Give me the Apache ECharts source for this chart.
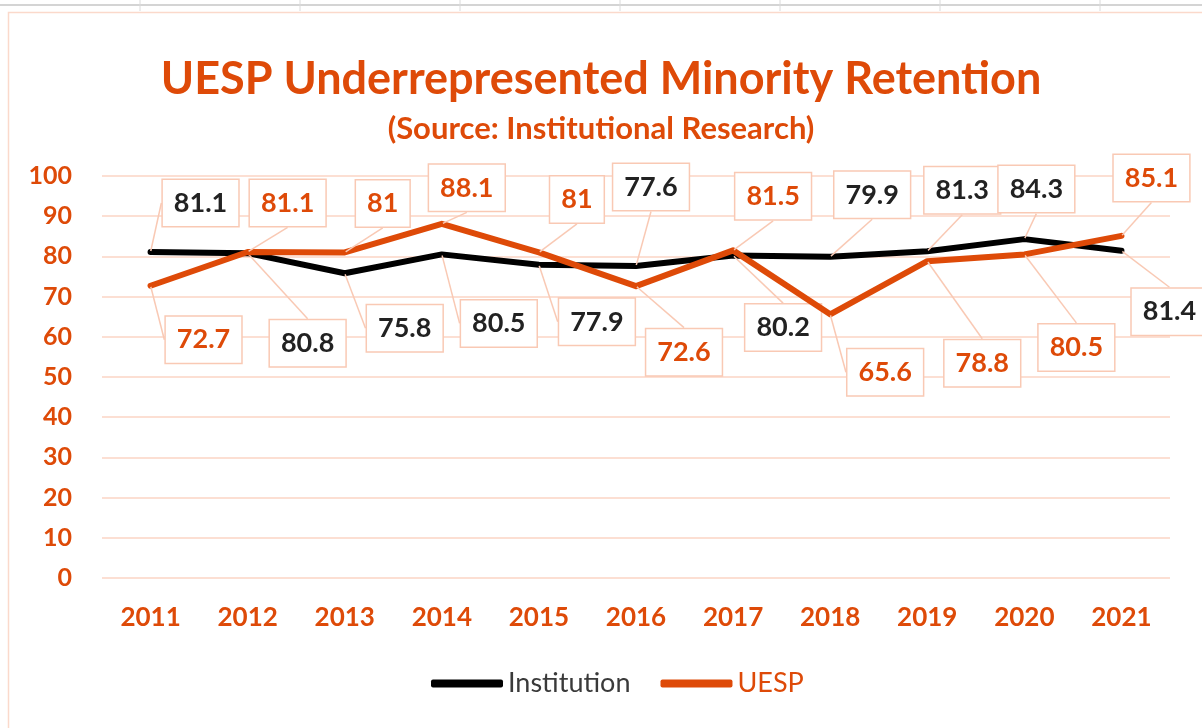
<!DOCTYPE html>
<html>
<head>
<meta charset="utf-8">
<script src="https://cdn.jsdelivr.net/npm/echarts@6/dist/echarts.min.js"></script>
<style>
html,body{margin:0;padding:0;background:#fff;}
#chart{width:1202px;height:728px;}
</style>
</head>
<body>
<div id="chart"></div>
<script>
const years = ['2011','2012','2013','2014','2015','2016','2017','2018','2019','2020','2021'];
const institution = [81.1, 80.8, 75.8, 80.5, 77.9, 77.6, 80.2, 79.9, 81.3, 84.3, 81.4];
const uesp = [72.7, 81.1, 81, 88.1, 81, 72.6, 81.5, 65.6, 78.8, 80.5, 85.1];
const yTicks = [0, 10, 20, 30, 40, 50, 60, 70, 80, 90, 100];

// callout offsets (label box center relative to the point, px)
const instOffsets = [[50,-49],[60,90],[60,55],[57,69],[58,57],[15,-79],[50,72],[42,-62],[35,-61],[12,-50],[48,61]];
const uespOffsets = [[53,54],[40,-49],[38,-49],[25,-36],[38,-53],[48,66],[40,-54],[55,58],[55,102],[52,93],[30,-58]];

const ORANGE = '#de4a08';
const PALE = '#f9c9b4';
const FONT = 'Lato, "Open Sans", sans-serif';

const chart = echarts.init(document.getElementById('chart'), null, {renderer:'canvas'});

function labelCfg(color) {
  return {
    show: true,
    position: 'inside',
    color: color,
    fontFamily: FONT,
    fontWeight: 'bold',
    fontSize: 27,
    lineHeight: 28,
    backgroundColor: '#fff',
    borderColor: PALE,
    borderWidth: 1.5,
    padding: [9, 11, 9, 11]
  };
}

chart.setOption({
  animation: false,
  backgroundColor: '#fff',
  graphic: [
    {type:'rect', shape:{x:0,y:0,width:1202,height:12}, style:{fill:'#fff'}, silent:true, z:-10},
    {type:'line', shape:{x1:0,y1:5,x2:1202,y2:5}, style:{stroke:'#d4d4d4', lineWidth:2}, silent:true},
    ...[140,300,460,620,780,940,1100].map(x => ({type:'line', shape:{x1:x,y1:0,x2:x,y2:11}, style:{stroke:'#dadada', lineWidth:1}, silent:true})),
    {type:'rect', shape:{x:8.5,y:12.5,width:1250,height:800}, style:{fill:null, stroke:'#fbd9cb', lineWidth:1.5}, silent:true, z:-5}
  ],
  title: {
    text: 'UESP Underrepresented Minority Retention',
    subtext: '(Source: Institutional Research)',
    left: 'center',
    top: 52,
    itemGap: 11,
    textStyle: {color: ORANGE, fontFamily: FONT, fontWeight: 'bold', fontSize: 45},
    subtextStyle: {color: ORANGE, fontFamily: FONT, fontWeight: 'bold', fontSize: 31}
  },
  legend: {
    bottom: 26,
    left: 426,
    itemWidth: 72,
    itemHeight: 8,
    itemGap: 30,
    icon: 'roundRect',
    textStyle: {fontFamily: FONT, fontSize: 27, color: '#333'},
    data: [
      {name: 'Institution', textStyle: {color: '#3a3a3a'}},
      {name: 'UESP', textStyle: {color: ORANGE}}
    ]
  },
  grid: {left: 102, right: 32, top: 176, bottom: 150},
  xAxis: {
    type: 'category',
    data: years,
    boundaryGap: true,
    axisLine: {show: false},
    axisTick: {show: false},
    axisLabel: {color: ORANGE, fontFamily: FONT, fontWeight: 'bold', fontSize: 26, margin: 27}
  },
  yAxis: {
    type: 'value',
    min: 0,
    max: 100,
    interval: 10,
    axisLine: {show: false},
    axisTick: {show: false},
    splitLine: {lineStyle: {color: '#fbd5c4', width: 1.5}},
    axisLabel: {color: ORANGE, fontFamily: FONT, fontWeight: 'bold', fontSize: 25, margin: 30,
      formatter: v => yTicks.includes(v) ? String(v) : ''}
  },
  series: [
    {
      name: 'Institution',
      type: 'line',
      data: institution,
      color: '#000',
      symbol: 'circle',
      symbolSize: 2,
      showSymbol: true,
      lineStyle: {color: '#000', width: 6, cap: 'round', join: 'round'},
      itemStyle: {color: '#000'},
      label: labelCfg('#222'),
      labelLine: {show: true, lineStyle: {color: PALE, width: 1.5}},
      labelLayout: p => ({dx: instOffsets[p.dataIndex][0], dy: instOffsets[p.dataIndex][1]}),
      z: 3
    },
    {
      name: 'UESP',
      type: 'line',
      data: uesp,
      color: ORANGE,
      symbol: 'circle',
      symbolSize: 2,
      showSymbol: true,
      lineStyle: {color: ORANGE, width: 6, cap: 'round', join: 'round'},
      itemStyle: {color: ORANGE},
      label: labelCfg(ORANGE),
      labelLine: {show: true, lineStyle: {color: PALE, width: 1.5}},
      labelLayout: p => ({dx: uespOffsets[p.dataIndex][0], dy: uespOffsets[p.dataIndex][1]}),
      z: 4
    }
  ]
});
</script>
</body>
</html>
